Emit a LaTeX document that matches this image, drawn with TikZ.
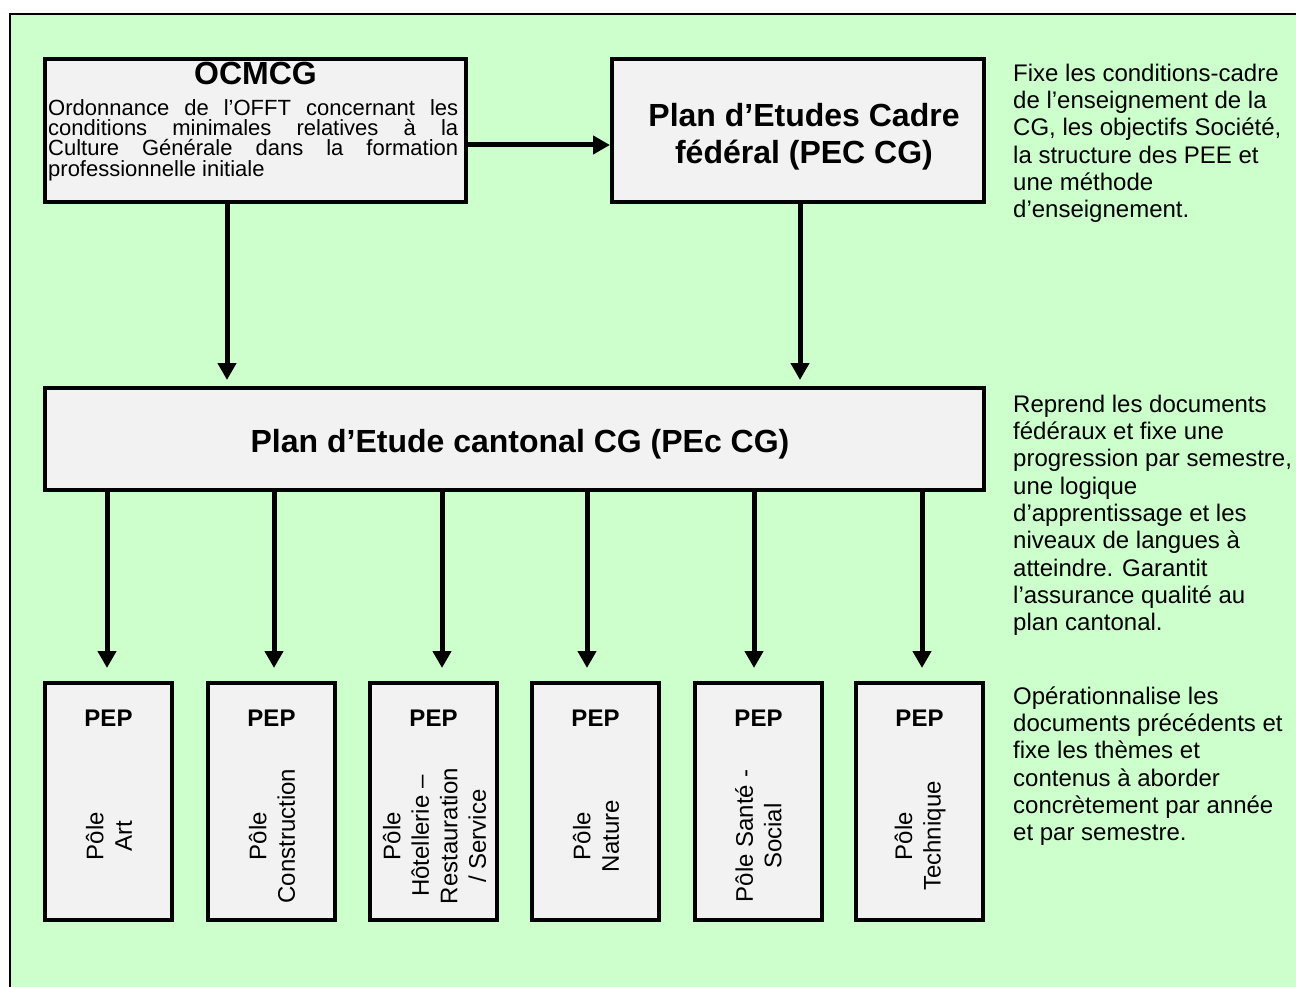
\documentclass[tikz,border=0pt]{standalone}
\usepackage{fontspec}
\setmainfont{Liberation Sans}
\usetikzlibrary{arrows.meta}
\definecolor{bggreen}{HTML}{CCFFCC}
\definecolor{boxgray}{HTML}{F2F2F2}
\begin{document}
\begin{tikzpicture}[x=1pt,y=-1pt,
  box/.style={draw=black,line width=4pt,fill=boxgray,inner sep=0pt},
  arr/.style={line width=5pt,-{Triangle[length=17pt,width=18pt]}},
  note/.style={align=left,inner sep=0pt,anchor=north west,font=\fontsize{24}{27.3}\selectfont},
  pole/.style={rotate=90,align=center,inner sep=0pt,font=\fontsize{24}{28.5}\selectfont},
  peplabel/.style={inner sep=0pt,anchor=base,font=\fontsize{24}{28}\selectfont\bfseries},
  bigbold/.style={inner sep=0pt,font=\fontsize{32}{36.6}\selectfont\bfseries},
  pepbox/.style={box,minimum width=127pt,minimum height=237pt}
]
\useasboundingbox (0,0) rectangle (1296,987);
\begin{scope}
  \clip (0,0) rectangle (1296,987);
  \fill[white] (0,0) rectangle (1296,987);
  \draw[line width=2pt,fill=bggreen] (10,14) rectangle (1330,1020);
\end{scope}

% boxes
\node[box,minimum width=421pt,minimum height=143pt] (ocmcg) at (255.5,130.5) {};
\node[box,minimum width=372pt,minimum height=143pt] (pec) at (798,130.5) {};
\node[box,minimum width=939pt,minimum height=102pt] (cant) at (514.5,439) {};
\node[pepbox] (pep1) at (108.5,801.5) {};
\node[pepbox] (pep2) at (271.5,801.5) {};
\node[pepbox] (pep3) at (433.5,801.5) {};
\node[pepbox] (pep4) at (595.5,801.5) {};
\node[pepbox] (pep5) at (758.5,801.5) {};
\node[pepbox] (pep6) at (919.5,801.5) {};

% box texts
\node[bigbold,anchor=base] (t1) at (255.5,85) {OCMCG};
\node[anchor=north west,text width=410pt,align=justify,inner sep=0pt,
      font=\fontsize{22}{20.3}\selectfont] (t2) at (48,99.2)
  {\tolerance=9999 \hbadness=10000 Ordonnance de l’OFFT concernant les\linebreak
   conditions minimales relatives à la\linebreak
   Culture Générale dans la formation\linebreak
   professionnelle initiale};
\node[bigbold,anchor=north,align=center] (t3) at (804,103.4) {Plan d’Etudes Cadre\\fédéral (PEC CG)};
\node[bigbold,anchor=base] (t4) at (520,452) {Plan d’Etude cantonal CG (PEc CG)};

\foreach \i/\cx in {1/108.5,2/271.5,3/433.5,4/595.5,5/758.5,6/919.5}{
  \node[peplabel] (pl\i) at (\cx,726) {PEP};
}
\node[pole] (p1) at (109,836) {Pôle\\Art};
\node[pole] (p2) at (272,836) {Pôle\\Construction};
\node[pole] (p3) at (434.5,836) {Pôle\\Hôtellerie –\\Restauration\\/ Service};
\node[pole] (p4) at (596,836) {Pôle\\Nature};
\node[pole] (p5) at (758.5,836) {Pôle Santé -\\Social};
\node[pole] (p6) at (920,836) {Pôle\\Technique};

% side notes
\node[note] (n1) at (1013,63.8) {Fixe les conditions-cadre\\de l’enseignement de la\\CG, les objectifs Société,\\la structure des PEE et\\une méthode\\d’enseignement.};
\node[note] (n2) at (1013,394.8) {Reprend les documents\\fédéraux et fixe une\\progression par semestre,\\une logique\\d’apprentissage et les\\niveaux de langues à\\atteindre. Garantit\\l’assurance qualité au\\plan cantonal.};
\node[note] (n3) at (1013,686.5) {Opérationnalise les\\documents précédents et\\fixe les thèmes et\\contenus à aborder\\concrètement par année\\et par semestre.};

% connector coordinates
\coordinate (ya) at (0,145);
\coordinate (xa) at (227,0);
\coordinate (xb) at (800,0);
\coordinate (x1) at (107,0);
\coordinate (x2) at (274,0);
\coordinate (x3) at (442,0);
\coordinate (x4) at (587,0);
\coordinate (x5) at (754,0);
\coordinate (x6) at (922,0);

% connectors
\draw[arr] (ocmcg.east |- ya) -- (pec.west |- ya);
\draw[arr] (ocmcg.south -| xa) -- ([yshift=6pt]cant.north -| xa);
\draw[arr] (pec.south -| xb) -- ([yshift=6pt]cant.north -| xb);
\foreach \i in {1,...,6}{
  \draw[arr] (cant.south -| x\i) -- ([yshift=13pt]pep\i.north -| x\i);
}
\end{tikzpicture}
\end{document}
